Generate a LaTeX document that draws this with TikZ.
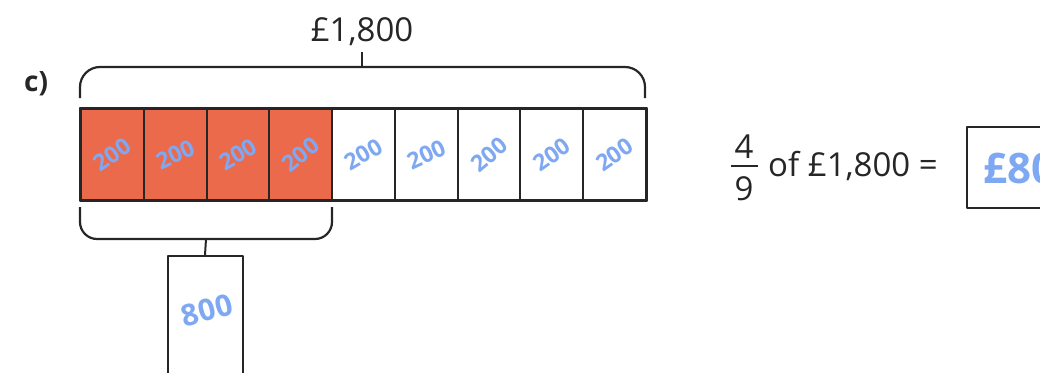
\documentclass[tikz,border=0pt]{standalone}
\usepackage{fontspec}
\setmainfont{Open Sans}
\definecolor{barfill}{HTML}{EC6A4C}
\definecolor{ink}{HTML}{7FA8F2}
\definecolor{edge}{HTML}{262626}
\tikzset{
  cell/.style={draw=edge, line width=2pt, inner sep=0pt, minimum width=62.78pt, minimum height=91pt, anchor=north west, text=ink, font=\fontsize{23}{23}\bfseries},
  shaded/.style={cell, fill=barfill},
  hand/.style={text=ink, font=\fontsize{23}{23}\bfseries, inner sep=0pt},
  label/.style={text=edge, font=\fontsize{33}{33}\selectfont, inner sep=0pt},
  brace/.style={draw=edge, line width=2.2pt, rounded corners=20pt},
  box/.style={draw=edge, line width=2pt},
}
\begin{document}
\begin{tikzpicture}[x=1pt,y=-1pt,line join=round]
\useasboundingbox (0,0) rectangle (1040,372);
\clip (0,0) rectangle (1040,372);
% cells with handwritten 200s
\node[shaded] (c0) at (80+0*62.78,108) {\rotatebox{35}{200}};
\node[shaded] (c1) at (80+1*62.78,108) {\rotatebox{25}{200}};
\node[shaded] (c2) at (80+2*62.78,108) {\rotatebox{30}{200}};
\node[shaded] (c3) at (80+3*62.78,108) {\rotatebox{40}{200}};
\node[cell] (c4) at (80+4*62.78,108) {\rotatebox{30}{200}};
\node[cell] (c5) at (80+5*62.78,108) {\rotatebox{25}{200}};
\node[cell] (c6) at (80+6*62.78,108) {\rotatebox{40}{200}};
\node[cell] (c7) at (80+7*62.78,108) {\rotatebox{35}{200}};
\node[cell] (c8) at (80+8*62.78,108) {\rotatebox{35}{200}};
\draw[draw=edge, line width=2.8pt] (c0.north west) rectangle (c8.south east);
% top brace and total
\draw[brace] (80,98) -- (80,67) -- (645,67) -- (645,98);
\node[label, anchor=base] (total) at (362,41) {£1,800};
\coordinate (ttop) at (362,67);
\draw[edge, line width=2pt] (ttop) -- (362,52);
\node[label, anchor=base west, font=\fontsize{28}{28}\bfseries] (part) at (24,91) {c)};
% bottom brace
\draw[brace, rounded corners=17pt] (80,207) -- (80,239) -- (332,239) -- (332,207);
\coordinate (btick) at (206,239);
\node[box, inner sep=0pt, minimum width=75pt, minimum height=130pt, anchor=north] (ans) at (205,255) {};
\draw[edge, line width=2pt] (btick) -- (ans.north);
\node[hand, rotate=15, font=\fontsize{30}{30}\bfseries] (v800) at (207,310) {800};
% fraction sentence
\node[label, anchor=base] (num) at (744,158) {4};
\node[label, anchor=base] (den) at (744,200) {9};
\draw[edge, line width=2pt] (731,165.5) -- (758,165.5);
\node[label, anchor=base west] (sent) at (768,176) {of £1,800 =};
\node[box, inner sep=0pt, minimum width=130pt, minimum height=81pt, anchor=north west] (res) at (966,126) {};
\node[hand, anchor=west, font=\fontsize{42}{42}\bfseries] (resv) at (983,168) {£800};
\end{tikzpicture}
\end{document}
